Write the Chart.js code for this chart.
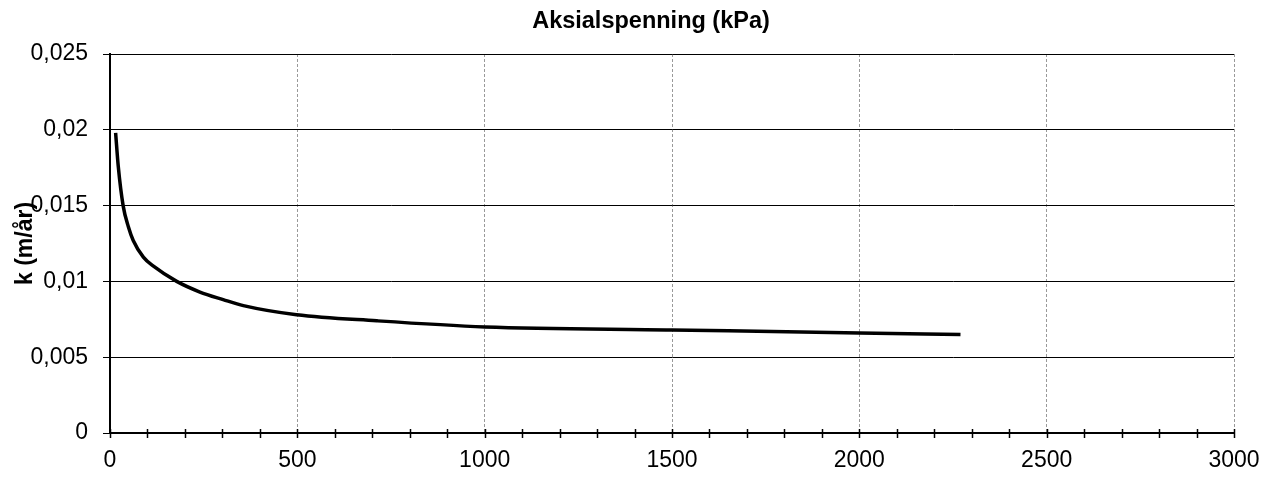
<!DOCTYPE html>
<html>
<head>
<meta charset="utf-8">
<title>Aksialspenning</title>
<script src="https://cdn.jsdelivr.net/npm/chart.js@4.4.1/dist/chart.umd.min.js"></script>
<style>
  html, body { margin: 0; padding: 0; background: #fff; }
  #wrap { width: 1271px; height: 484px; }
</style>
</head>
<body>
<div id="wrap"><canvas id="kChart" width="1271" height="484"></canvas></div>
<script>
const chartTitle = "Aksialspenning (kPa)";
const yTitle = "k (m/år)";

// aksialspenning (kPa) and k (m/år)
const stress = [15, 22, 35, 49, 62, 89, 116, 178, 240, 302, 356, 498, 712, 1001, 1499, 2000, 2270];
const kValues = [0.0198, 0.0176, 0.0150, 0.0136, 0.0127, 0.0116, 0.0110, 0.0100, 0.0093, 0.0088, 0.0084, 0.0078, 0.0074, 0.0070, 0.0068, 0.0066, 0.0065];

const xTicks = [0, 500, 1000, 1500, 2000, 2500, 3000];
const xTickLabels = ["0", "500", "1000", "1500", "2000", "2500", "3000"];
const yTicks = [0, 0.005, 0.01, 0.015, 0.02, 0.025];
const yTickLabels = ["0", "0,005", "0,01", "0,015", "0,02", "0,025"];

const fontFamily = "Arial, 'Liberation Sans', sans-serif";

// title sits a bit left of centre, and x ticks (major + minor) cross the axis
const extras = {
  id: "extras",
  afterDraw(chart) {
    const ctx = chart.ctx;
    const x = chart.scales.x;
    const area = chart.chartArea;
    ctx.save();
    ctx.strokeStyle = "#000";
    ctx.lineWidth = 1.5;
    for (let v = 0; v <= 3000; v += 100) {
      const px = Math.round(x.getPixelForValue(v)) + 0.5;
      ctx.beginPath();
      ctx.moveTo(px, area.bottom - 4);
      ctx.lineTo(px, area.bottom + 5);
      ctx.stroke();
    }
    ctx.fillStyle = "#000";
    ctx.font = "bold 23.5px " + fontFamily;
    ctx.textAlign = "center";
    ctx.textBaseline = "alphabetic";
    ctx.fillText(chartTitle, 651, 28);
    ctx.restore();
  }
};

const ctx = document.getElementById("kChart");

new Chart(ctx.getContext("2d"), {
  type: "line",
  data: {
    datasets: [{
      label: "k",
      data: stress.map((s, i) => ({ x: s, y: kValues[i] })),
      borderColor: "#000",
      borderWidth: 3.5,
      pointRadius: 0,
      fill: false,
      cubicInterpolationMode: "monotone"
    }]
  },
  options: {
    responsive: false,
    animation: false,
    layout: { padding: { top: 54, right: 37, left: 0, bottom: 0 } },
    plugins: {
      legend: { display: false },
      tooltip: { enabled: false },
      title: { display: false }
    },
    scales: {
      x: {
        type: "linear",
        min: 0,
        max: 3000,
        afterBuildTicks: axis => { axis.ticks = xTicks.map(v => ({ value: v })); },
        afterFit: axis => {
          axis.height = 51;
          axis.paddingLeft = 0;
          axis.paddingRight = 0;
        },
        grid: {
          color: "#999",
          lineWidth: 1,
          drawTicks: false
        },
        border: { display: true, color: "#000", width: 2, dash: [3, 2] },
        ticks: {
          padding: 14,
          color: "#000",
          font: { family: fontFamily, size: 23 },
          maxRotation: 0,
          autoSkip: false,
          callback: (value, index) => xTickLabels[index]
        }
      },
      y: {
        min: 0,
        max: 0.025,
        afterBuildTicks: axis => { axis.ticks = yTicks.map(v => ({ value: v })); },
        afterFit: axis => {
          axis.width = 110;
          axis.paddingTop = 0;
          axis.paddingBottom = 0;
        },
        grid: {
          color: "#000",
          lineWidth: 1,
          tickLength: 7
        },
        border: { display: true, color: "#000", width: 2 },
        ticks: {
          padding: 15,
          color: "#000",
          font: { family: fontFamily, size: 23 },
          callback: (value, index) => yTickLabels[index]
        },
        title: {
          display: true,
          text: yTitle,
          color: "#000",
          padding: { top: 12, bottom: 0 },
          font: { family: fontFamily, size: 23, weight: "bold" }
        }
      }
    }
  },
  plugins: [extras]
});
</script>
</body>
</html>
